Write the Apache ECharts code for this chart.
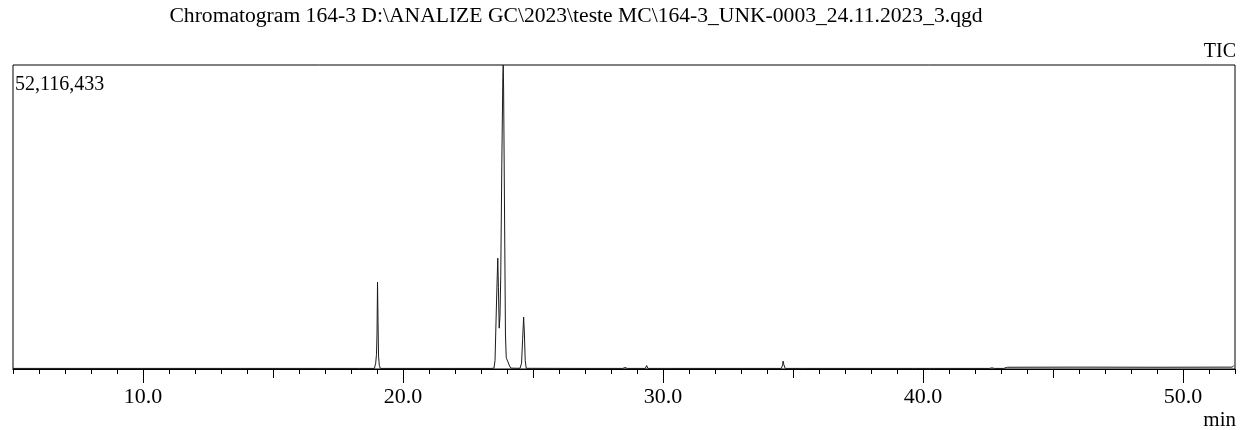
<!DOCTYPE html>
<html>
<head>
<meta charset="utf-8">
<script src="https://cdn.jsdelivr.net/npm/echarts@6/dist/echarts.min.js"></script>
<style>
html,body{margin:0;padding:0;background:#fff;}
#chart{width:1240px;height:430px;}
</style>
</head>
<body>
<div id="chart"></div>
<script>
// ---- data ----
const titleText = "Chromatogram 164-3 D:\\ANALIZE GC\\2023\\teste MC\\164-3_UNK-0003_24.11.2023_3.qgd";
const maxIntensityLabel = "52,116,433";
const maxIntensity = 52116433;
const channelLabel = "TIC";
const unitLabel = "min";
const majorTicks = [10, 20, 30, 40, 50];
const mediumTicks = [15, 25, 35, 45];

// retention time (min)
const times = [
  5.0, 8.0, 12.0, 13.74, 13.77, 13.80, 16.0, 18.32, 18.35, 18.38,
  18.90, 18.95, 18.98, 19.00, 19.02, 19.04, 19.06, 19.09, 19.13,
  21.0, 21.77, 21.80, 21.83, 23.40, 23.50, 23.54, 23.60, 23.645, 23.67,
  23.70, 23.73, 23.76, 23.80, 23.84, 23.855, 23.87, 23.90, 23.94, 23.97,
  24.00, 24.04, 24.10, 24.15, 24.50, 24.56, 24.60, 24.64, 24.67, 24.70,
  24.74, 27.0, 28.45, 28.54, 28.63, 29.32, 29.37, 29.42, 30.08, 30.14,
  30.20, 33.0, 34.55, 34.60, 34.62, 34.65, 34.70, 35.32, 35.38, 35.44,
  39.0, 39.60, 39.65, 39.70, 40.30, 40.35, 40.40, 42.55, 42.65, 42.75,
  43.10, 43.25, 46.0, 49.0, 51.90, 51.95
];
// TIC intensity (counts)
const intensity = [
  100000, 100000, 100000, 100000, 350000, 100000, 100000, 100000, 400000, 100000,
  100000, 1000000, 2500000, 6000000, 14900000, 8000000, 2200000, 600000, 100000,
  100000, 100000, 300000, 100000, 100000, 150000, 1500000, 12000000, 19000000, 14000000,
  7000000, 9000000, 16000000, 35000000, 50000000, 52116433, 48000000, 30000000, 6000000, 2000000,
  1600000, 1200000, 500000, 150000, 120000, 1000000, 5000000, 8900000, 6000000, 1500000,
  120000, 100000, 100000, 250000, 100000, 100000, 600000, 100000, 100000, 250000,
  100000, 100000, 100000, 700000, 1350000, 700000, 100000, 100000, 250000, 100000,
  100000, 100000, 250000, 100000, 100000, 250000, 100000, 100000, 200000, 100000,
  100000, 300000, 320000, 300000, 320000, 600000
];

const seriesData = times.map((t, i) => [t, intensity[i]]);

const FONT = '"Liberation Serif", "DejaVu Serif", serif';

const chart = echarts.init(document.getElementById('chart'), null, {renderer: 'canvas'});
const xMin = 5, xMax = 52;

chart.setOption({
  animation: false,
  backgroundColor: '#fff',
  grid: {left: 13, right: 5, top: 65, bottom: 61, show: true, borderColor: '#000', borderWidth: 1, containLabel: false},
  xAxis: [
    {
      type: 'value', min: xMin, max: xMax, interval: 1,
      axisLine: {show: true, lineStyle: {color: '#000', width: 1}},
      axisTick: {show: true, length: 5, lineStyle: {color: '#000', width: 1}},
      axisLabel: {show: false},
      splitLine: {show: false}
    },
    {
      type: 'value', min: xMin, max: xMax, position: 'bottom',
      axisLine: {show: false},
      axisTick: {show: true, customValues: mediumTicks, length: 9, lineStyle: {color: '#000', width: 1}},
      axisLabel: {show: false},
      splitLine: {show: false}
    },
    {
      type: 'value', min: xMin, max: xMax, position: 'bottom',
      axisLine: {show: false},
      axisTick: {show: true, customValues: majorTicks, length: 14, lineStyle: {color: '#000', width: 1}},
      axisLabel: {
        show: true, customValues: majorTicks, margin: 17,
        formatter: v => Number(v).toFixed(1),
        fontFamily: FONT, fontSize: 22, color: '#000'
      },
      splitLine: {show: false}
    }
  ],
  yAxis: {
    type: 'value', min: 0, max: maxIntensity, show: false, splitLine: {show: false}
  },
  series: [{
    type: 'line',
    xAxisIndex: 0,
    data: seriesData,
    showSymbol: false,
    symbol: 'none',
    clip: true,
    lineStyle: {color: '#1a1a1a', width: 1},
    silent: true
  }],
  graphic: [
    {type: 'text', x: 576, y: 16, style: {text: titleText, font: '21.6px ' + FONT, fill: '#000', align: 'center', verticalAlign: 'middle'}},
    {type: 'text', x: 1236, y: 52, style: {text: channelLabel, font: '20px ' + FONT, fill: '#000', align: 'right', verticalAlign: 'middle'}},
    {type: 'text', x: 15, y: 85, style: {text: maxIntensityLabel, font: '20px ' + FONT, fill: '#000', align: 'left', verticalAlign: 'middle'}},
    {type: 'text', x: 1236, y: 420, style: {text: unitLabel, font: '21px ' + FONT, fill: '#000', align: 'right', verticalAlign: 'middle'}}
  ]
});
</script>
</body>
</html>
